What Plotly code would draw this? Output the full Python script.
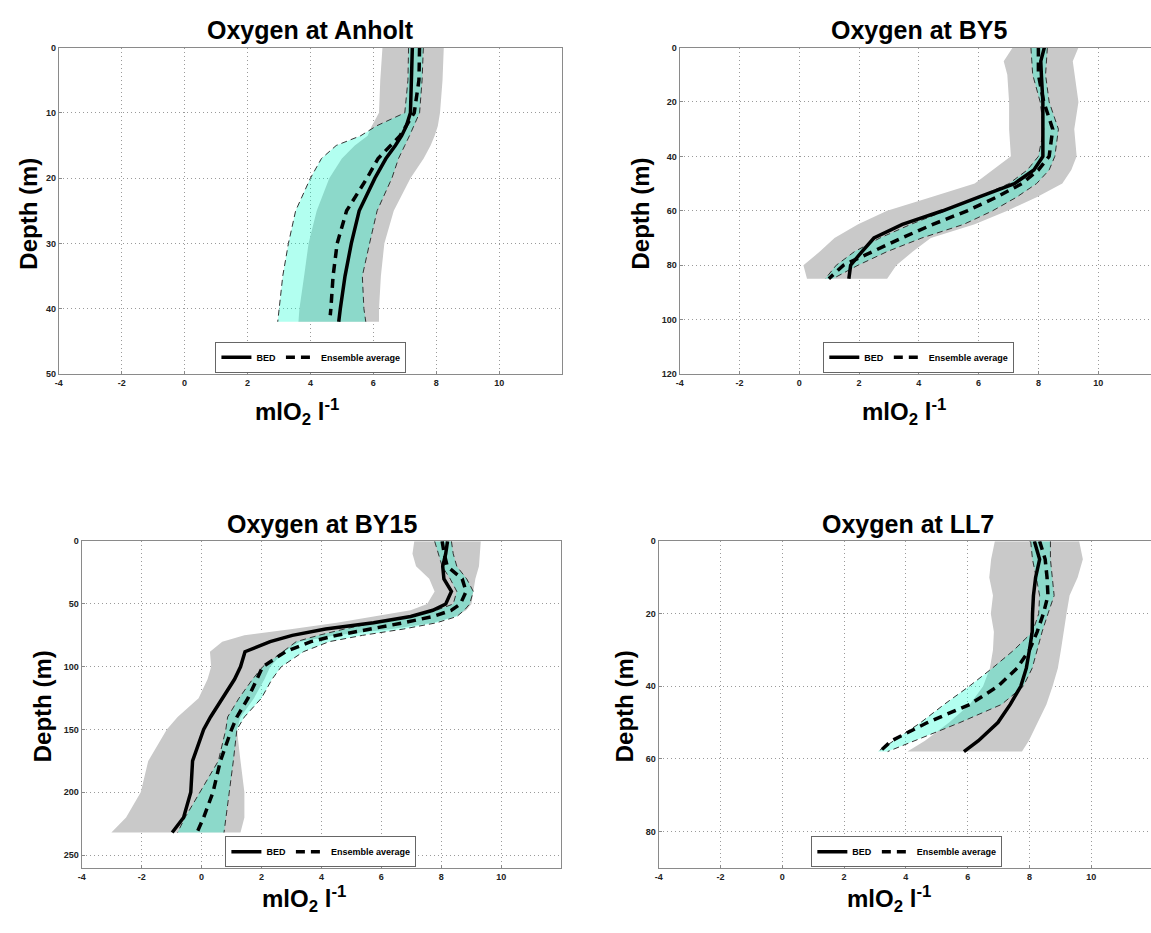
import plotly.graph_objects as go

W, H = 1151, 933

# ---------------- data ----------------
titles = ["Oxygen at Anholt", "Oxygen at BY5", "Oxygen at BY15", "Oxygen at LL7"]
x_ticks = [-4, -2, 0, 2, 4, 6, 8, 10]

# Anholt
anholt_depth = [0, 5, 10, 12, 13.5, 15, 17, 20, 25, 30, 35, 40, 42]
anholt_bed = [7.24, 7.22, 7.18, 7.05, 6.9, 6.7, 6.4, 6.05, 5.55, 5.3, 5.1, 4.95, 4.9]
anholt_ens_depth = [0, 5, 10, 12, 13.5, 15, 17, 20, 25, 30, 35, 40, 41]
anholt_ens = [7.47, 7.45, 7.3, 7.05, 6.85, 6.55, 6.15, 5.8, 5.15, 4.85, 4.72, 4.65, 4.63]
anholt_ens_hi = [7.59, 7.55, 7.47, 7.3, 7.15, 7.0, 6.8, 6.59, 6.12, 5.88, 5.65, 5.7, 5.76]
anholt_ens_lo = [7.12, 7.1, 7.0, 6.1, 5.6, 4.82, 4.35, 4.0, 3.53, 3.3, 3.12, 3.0, 2.96]
anholt_obs_hi = [8.24, 8.2, 8.12, 8.05, 7.95, 7.82, 7.6, 7.18, 6.65, 6.35, 6.24, 6.18, 6.18]
anholt_obs_lo = [6.29, 6.22, 6.18, 5.95, 5.82, 5.41, 5.0, 4.6, 4.2, 3.94, 3.8, 3.65, 3.62]
anholt_yticks = [0, 10, 20, 30, 40, 50]

# BY5
by5_depth = [0, 5, 10, 20, 30, 40, 45, 50, 55, 60, 65, 70, 75, 80, 85]
by5_bed = [8.2, 8.08, 8.1, 8.15, 8.15, 8.15, 7.85, 7.2, 6.0, 4.8, 3.45, 2.5, 2.1, 1.72, 1.66]
by5_ens = [8.0, 8.0, 8.0, 8.18, 8.48, 8.36, 8.0, 7.45, 6.6, 5.62, 4.47, 3.43, 2.46, 1.48, 0.99]
by5_ens_hi = [8.3, 8.27, 8.24, 8.36, 8.67, 8.55, 8.36, 7.94, 7.27, 6.47, 5.5, 4.1, 2.94, 1.97, 1.12]
by5_ens_lo = [7.75, 7.78, 7.81, 8.06, 8.18, 8.0, 7.63, 7.02, 5.99, 4.89, 3.73, 2.7, 1.85, 1.24, 0.87]
by5_obs_hi = [9.34, 9.15, 9.2, 9.34, 9.2, 9.28, 9.1, 8.8, 7.94, 6.96, 5.87, 4.4, 3.8, 3.25, 2.94]
by5_obs_lo = [7.14, 6.84, 6.96, 7.02, 7.02, 7.08, 6.47, 5.87, 4.4, 2.94, 1.97, 1.18, 0.69, 0.14, 0.26]
by5_yticks = [0, 20, 40, 60, 80, 100, 120]

# BY15
by15_depth = [0, 10, 20, 30, 40, 50, 55, 60, 65, 70, 75, 80, 88, 100, 110, 125, 140, 150, 175, 200, 220, 232]
by15_bed = [8.21, 8.15, 8.05, 8.09, 8.34, 8.15, 7.72, 6.98, 5.74, 4.14, 3.03, 2.29, 1.45, 1.3, 1.1, 0.69, 0.3, 0.07, -0.3, -0.36, -0.6, -0.98]
by15_ens = [8.03, 8.1, 8.2, 8.7, 8.83, 8.64, 8.34, 7.72, 6.73, 5.62, 4.51, 3.65, 2.8, 2.04, 1.85, 1.55, 1.18, 1.0, 0.63, 0.38, 0.07, -0.15]
by15_ens_hi = [8.34, 8.4, 8.52, 8.85, 9.07, 8.95, 8.77, 8.52, 7.84, 6.73, 5.37, 4.26, 3.4, 2.66, 2.35, 2.0, 1.43, 1.18, 1.06, 0.93, 0.81, 0.75]
by15_ens_lo = [7.78, 7.9, 8.03, 8.3, 8.52, 8.4, 7.84, 6.98, 5.74, 4.76, 3.9, 3.16, 2.7, 2.04, 1.7, 1.25, 0.87, 0.81, 0.56, -0.05, -0.55, -0.8]
by15_obs_hi = [9.32, 9.28, 9.26, 9.14, 9.07, 9.01, 8.83, 8.46, 7.72, 6.36, 4.51, 3.28, 2.75, 2.29, 2.1, 1.75, 1.3, 1.18, 1.3, 1.43, 1.43, 1.3]
by15_obs_lo = [7.1, 7.04, 7.16, 7.6, 7.78, 7.53, 6.98, 5.74, 4.51, 3.03, 1.43, 0.69, 0.28, 0.32, 0.2, -0.1, -0.8, -1.16, -1.78, -2.03, -2.52, -3.01]
by15_yticks = [0, 50, 100, 150, 200, 250]

# LL7
ll7_depth = [0, 5, 10, 15, 20, 25, 30, 35, 40, 45, 50, 55, 58]
ll7_bed = [8.16, 8.33, 8.2, 8.13, 8.1, 8.09, 8.0, 7.9, 7.72, 7.38, 6.98, 6.35, 5.88]
ll7_ens = [8.33, 8.51, 8.57, 8.6, 8.45, 8.25, 8.0, 7.6, 6.98, 6.07, 4.7, 3.54, 3.15]
ll7_ens_hi = [8.68, 8.68, 8.74, 8.8, 8.6, 8.41, 8.25, 8.09, 7.8, 7.1, 5.75, 4.27, 3.41]
ll7_ens_lo = [8.04, 8.1, 8.22, 8.33, 8.3, 8.1, 7.5, 6.8, 6.05, 5.24, 4.48, 3.6, 3.09]
ll7_obs_hi = [9.61, 9.73, 9.56, 9.3, 9.2, 9.1, 9.02, 8.92, 8.75, 8.55, 8.27, 7.98, 7.76]
ll7_obs_lo = [6.88, 6.76, 6.7, 6.82, 6.75, 6.85, 6.82, 6.72, 6.5, 6.07, 5.4, 4.62, 4.05]
ll7_yticks = [0, 20, 40, 60, 80]

# ---------------- layout geometry (pixels) ----------------
# (left, right, top, bottom, xmax, ymax)
panels_px = [
    (55, 560, 43, 373, 12.0, 50),
    (678, 1151, 43, 373, -4 + (1151 - 678) / 30.0, 120),
    (78, 559, 542, 872, 12.0, 260),
    (657, 1151, 542, 872, -4 + (1151 - 657) / 31.0, 90),
]
title_pos = [(308, 25), (919, 25), (319, 525), (907, 525)]
ylab_pos = [(25, 211), (639, 211), (39, 709), (623, 709)]
xlab_pos = [(294, 411), (903, 411), (301, 904), (888, 904)]
leg_pos = [(308, 356), (918, 356), (318, 856), (906, 856)]

stations = [
    (anholt_depth, anholt_bed, anholt_ens_depth, anholt_ens, anholt_ens_hi, anholt_ens_lo, anholt_obs_hi, anholt_obs_lo, anholt_yticks),
    (by5_depth, by5_bed, by5_depth, by5_ens, by5_ens_hi, by5_ens_lo, by5_obs_hi, by5_obs_lo, by5_yticks),
    (by15_depth, by15_bed, by15_depth, by15_ens, by15_ens_hi, by15_ens_lo, by15_obs_hi, by15_obs_lo, by15_yticks),
    (ll7_depth, ll7_bed, ll7_depth, ll7_ens, ll7_ens_hi, ll7_ens_lo, ll7_obs_hi, ll7_obs_lo, ll7_yticks),
]

FONT = "Liberation Sans, Arial, sans-serif"
GREY = "#c9c9c9"
CYAN = "rgba(0,255,204,0.30)"

fig = go.Figure()
layout = dict(
    width=W, height=H, margin=dict(l=0, r=0, t=0, b=0),
    paper_bgcolor="white", plot_bgcolor="white", showlegend=True,
    font=dict(family=FONT, color="black"),
)
annotations = []

for i, (st, px) in enumerate(zip(stations, panels_px)):
    depth, bed, ens_depth, ens, ens_hi, ens_lo, obs_hi, obs_lo, yticks = st
    left, right, top, bottom, xmax, ymax = px
    sfx = "" if i == 0 else str(i + 1)
    xa, ya = "x" + sfx, "y" + sfx
    leg = "legend" + sfx
    band_depth = depth

    # observation range (grey)
    fig.add_trace(go.Scatter(
        x=list(obs_lo) + list(obs_hi)[::-1], y=list(depth) + list(depth)[::-1],
        fill="toself", fillcolor=GREY, line=dict(width=0), mode="lines",
        hoverinfo="skip", showlegend=False, xaxis=xa, yaxis=ya))
    # ensemble range (cyan, translucent)
    fig.add_trace(go.Scatter(
        x=list(ens_lo) + list(ens_hi)[::-1], y=list(band_depth) + list(band_depth)[::-1],
        fill="toself", fillcolor=CYAN, line=dict(width=0), mode="lines",
        hoverinfo="skip", showlegend=False, xaxis=xa, yaxis=ya))
    # ensemble range edges (thin dashed)
    for edge in (ens_lo, ens_hi):
        fig.add_trace(go.Scatter(
            x=edge, y=band_depth, mode="lines",
            line=dict(color="#333333", width=1, dash="6px,4px"),
            hoverinfo="skip", showlegend=False, xaxis=xa, yaxis=ya))
    # BED (solid)
    fig.add_trace(go.Scatter(
        x=bed, y=depth, mode="lines", name="BED",
        line=dict(color="black", width=3.5),
        legend=leg, showlegend=True, xaxis=xa, yaxis=ya))
    # Ensemble average (dashed)
    fig.add_trace(go.Scatter(
        x=ens, y=ens_depth, mode="lines", name="Ensemble average",
        line=dict(color="black", width=3.5, dash="9px,6px"),
        legend=leg, showlegend=True, xaxis=xa, yaxis=ya))

    has_right = right < W
    axis_common = dict(
        showgrid=True, gridcolor="#9a9a9a", griddash="1px,3px", gridwidth=1,
        showline=True, linecolor="#8a8a8a", linewidth=1.2,
        ticks="inside", ticklen=3, tickcolor="#8a8a8a",
        tickfont=dict(family=FONT, size=9, color="#222", weight="bold"),
        zeroline=False, fixedrange=True,
    )
    layout["xaxis" + sfx] = dict(
        axis_common, domain=[left / W, right / W], range=[-4, xmax],
        tickvals=x_ticks, ticktext=[str(v) for v in x_ticks], anchor=ya,
        mirror=True,
    )
    layout["yaxis" + sfx] = dict(
        axis_common, domain=[(H - bottom) / H, (H - top) / H], range=[ymax, 0],
        tickvals=yticks, ticktext=[str(v) for v in yticks], anchor=xa,
        mirror=has_right,
    )
    lx, ly = leg_pos[i]
    layout[leg] = dict(
        x=lx / W, y=(H - ly) / H, xanchor="center", yanchor="middle",
        orientation="h", bgcolor="white", bordercolor="#666", borderwidth=1,
        font=dict(family=FONT, size=9, color="black", weight="bold"),
        itemwidth=30, tracegroupgap=0,
    )

    tx, ty = title_pos[i]
    annotations.append(dict(
        text=titles[i], x=tx / W, y=(H - ty) / H, xref="paper", yref="paper",
        showarrow=False, xanchor="center", yanchor="middle",
        font=dict(family=FONT, size=25, color="black", weight="bold")))
    yx, yy = ylab_pos[i]
    annotations.append(dict(
        text="Depth (m)", x=yx / W, y=(H - yy) / H, xref="paper", yref="paper",
        showarrow=False, xanchor="center", yanchor="middle", textangle=-90,
        font=dict(family=FONT, size=24, color="black", weight="bold")))
    xx, xy = xlab_pos[i]
    annotations.append(dict(
        text="mlO<sub>2</sub> l<sup>-1</sup>", x=xx / W, y=(H - xy) / H,
        xref="paper", yref="paper", showarrow=False,
        xanchor="center", yanchor="middle",
        font=dict(family=FONT, size=24, color="black", weight="bold")))

layout["annotations"] = annotations
fig.update_layout(**layout)
fig.write_html("out.html")
